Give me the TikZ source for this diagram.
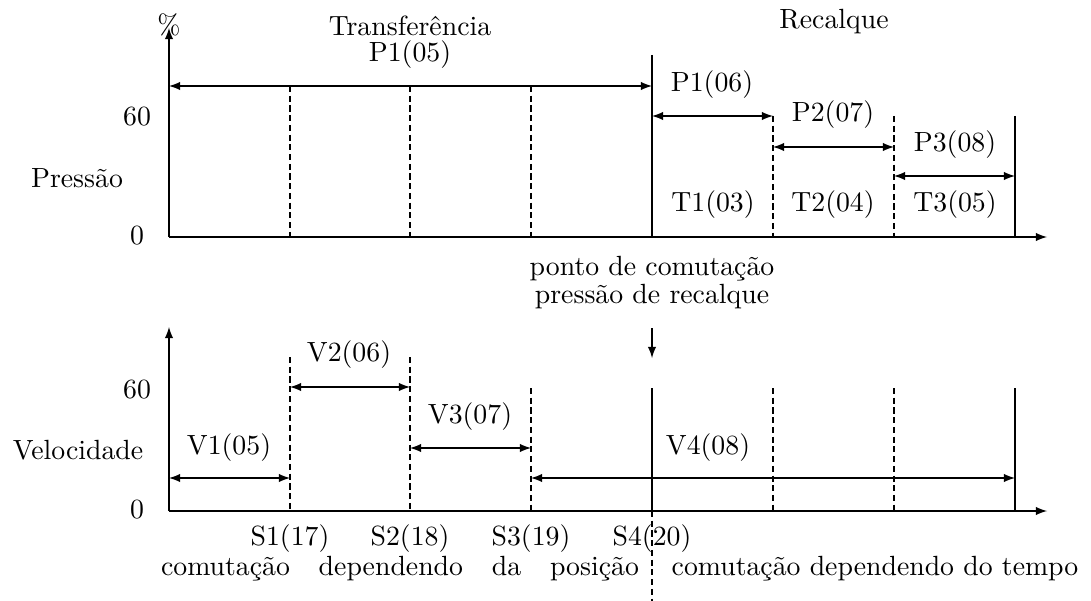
\documentclass[tikz,border=0pt]{standalone}
\usepackage{tikz}
\usetikzlibrary{arrows,positioning}
\tikzstyle{axis} = [->,>=latex]
\tikzstyle{dim} = [<->,>=latex]
\tikzstyle{divider} = [dash pattern=on 2.2pt off 1.3pt]

\begin{document}
\begin{tikzpicture}[
        x=0.36pt, y=-0.36pt,
        every node/.style={inner sep=1pt, outer sep=0pt}
        ]
    \useasboundingbox (0,0) rectangle (1091,601);
    % pressao
    \coordinate (p0) at (169,237);
    \coordinate (ptop) at (169,28);
    \coordinate (pend) at (1047,237);
    \foreach \x/\t/\s [count=\i] in {290/86/divider, 410/86/divider, 531/86/divider,
            652/55/solid, 773/116/divider, 894/116/divider, 1015/116/solid}{
        \coordinate (pt\i) at (\x,\t);
        \coordinate (pb\i) at (\x,237);
        \draw[\s] (pt\i) -- (pb\i);
    }
    \draw[axis] (p0) -- (ptop);
    \draw[axis] (p0) -- (pend);
    \coordinate (pa0) at (169,86);  \coordinate (pa1) at (652,86);
    \coordinate (pb0) at (652,116); \coordinate (pbb) at (773,116);
    \coordinate (pc0) at (773,147); \coordinate (pc1) at (894,147);
    \coordinate (pd0) at (894,176); \coordinate (pd1) at (1015,176);
    \draw[dim] (pa0) -- (pa1);
    \draw[dim] (pb0) -- (pbb);
    \draw[dim] (pc0) -- (pc1);
    \draw[dim] (pd0) -- (pd1);
    \node (perc) at (169,25) {\%};
    \node (transf) at (410,26) {Transfer\^encia};
    \node (p105) at (410,55) {P1(05)};
    \node (recalque) at (834,22) {Recalque};
    \node (p60) at (137,117) {60};
    \node (pressao) at (77,178) {Press\~ao};
    \node (pzero) at (137,236) {0};
    \node (p106) at (712,85) {P1(06)};
    \node (p207) at (833,115) {P2(07)};
    \node (p308) at (955,145) {P3(08)};
    \node (t103) at (713,205) {T1(03)};
    \node (t204) at (833,205) {T2(04)};
    \node (t305) at (955,205) {T3(05)};
    % ponto de comutacao
    \node (ponto) at (652,269) {ponto de comuta\c{c}\~ao};
    \node (precalque) at (652,297) {press\~ao de recalque};
    \coordinate (sw0) at (652,328);
    \coordinate (sw1) at (652,358);
    \draw[axis] (sw0) -- (sw1);
    % velocidade
    \coordinate (v0) at (169,511);
    \coordinate (vtop) at (169,327);
    \coordinate (vend) at (1047,511);
    \foreach \x/\t/\s [count=\i] in {290/357/divider, 410/357/divider, 531/388/divider,
            652/388/solid, 773/388/divider, 894/388/divider, 1015/388/solid}{
        \coordinate (vt\i) at (\x,\t);
        \coordinate (vb\i) at (\x,511);
        \draw[\s] (vt\i) -- (vb\i);
    }
    \draw[axis] (v0) -- (vtop);
    \draw[axis] (v0) -- (vend);
    \coordinate (va0) at (169,478); \coordinate (va1) at (290,478);
    \coordinate (vb0) at (290,387); \coordinate (vbb) at (410,387);
    \coordinate (vc0) at (410,448); \coordinate (vc1) at (531,448);
    \coordinate (vd0) at (531,478); \coordinate (vd1) at (1015,478);
    \draw[dim] (va0) -- (va1);
    \draw[dim] (vb0) -- (vbb);
    \draw[dim] (vc0) -- (vc1);
    \draw[dim] (vd0) -- (vd1);
    \coordinate (cut) at (652,601);
    \draw[divider] (vb4) -- (cut);
    \node (v60) at (137,390) {60};
    \node (velocidade) at (78,450) {Velocidade};
    \node (vzero) at (137,510) {0};
    \node (v105) at (229,448) {V1(05)};
    \node (v206) at (349,355) {V2(06)};
    \node (v307) at (470,417) {V3(07)};
    \node (v408) at (708,448) {V4(08)};
    \node (s117) at (290,539) {S1(17)};
    \node (s218) at (410,539) {S2(18)};
    \node (s319) at (531,539) {S3(19)};
    \node (s420) at (652,539) {S4(20)};
    \node (posicao) at (400,569) {\makebox[172pt][s]{comuta\c{c}\~ao dependendo da posi\c{c}\~ao}};
    \node (tempo) at (875,569) {comuta\c{c}\~ao dependendo do tempo};
\end{tikzpicture}
\end{document}
